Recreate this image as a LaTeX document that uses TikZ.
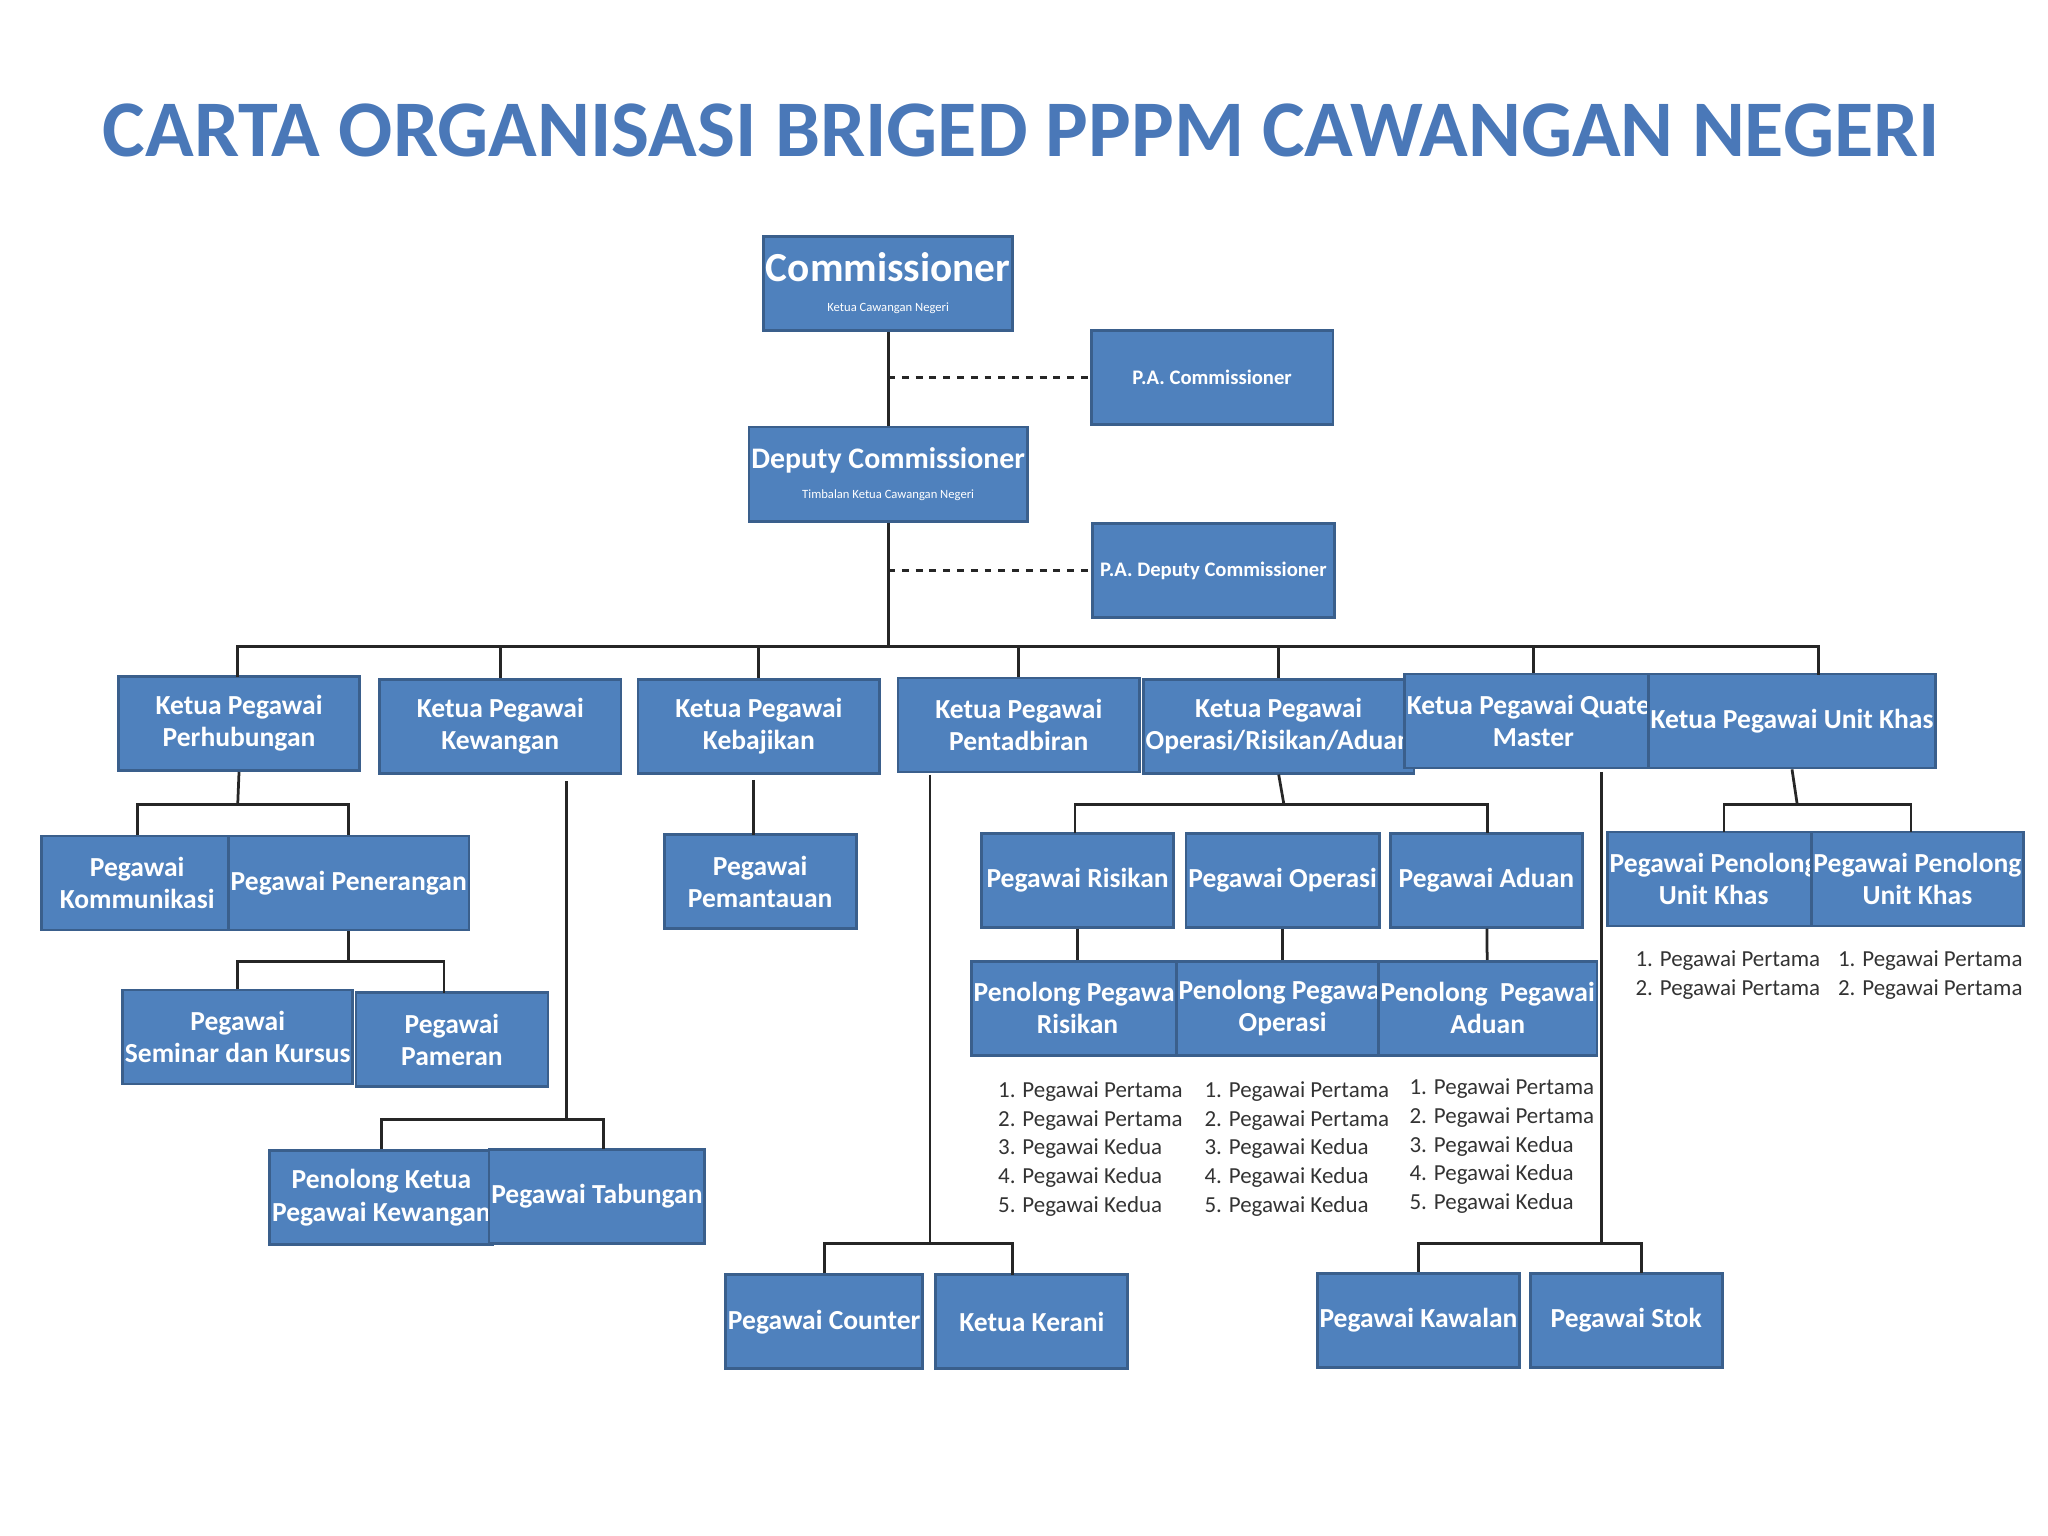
\documentclass[tikz,border=0pt]{standalone}
\usepackage{fontspec}
\setmainfont{Carlito}
\definecolor{boxfill}{HTML}{4F81BD}
\definecolor{boxline}{HTML}{3A5F8C}
\definecolor{titleblue}{HTML}{4A78B8}
\tikzset{
  box/.style={draw=boxline,line width=1.2pt,fill=boxfill,text=white,font=\bfseries\fontsize{12}{14}\selectfont,
    align=center,minimum width=2.94cm,minimum height=1.44cm,inner sep=1pt},
  wide/.style={box,minimum width=3.7cm},
  link/.style={line width=1.2pt,black!85},
  list/.style={font=\fontsize{10}{12.5}\selectfont,text=black!80,align=left,anchor=north west}
}
\begin{document}
\begin{tikzpicture}[x=0.02cm,y=-0.02cm]
  \useasboundingbox (0,0) rectangle (1568,1176);

  \node[text=titleblue,font=\bfseries\fontsize{35}{40}\selectfont] (title) at (782,100) {CARTA ORGANISASI BRIGED PPPM CAWANGAN NEGERI};

  % top
  \node[wide] (com) at (680,217) {{\fontsize{18}{20}\selectfont Commissioner}\\[-1pt]{\fontsize{5.5}{6}\selectfont\mdseries Ketua Cawangan Negeri}};
  \node[wide] (pacom) at (928,289) {{\fontsize{9}{10}\selectfont P.A. Commissioner}};
  \node[wide] (dep) at (680,363) {{\fontsize{13}{15}\selectfont Deputy Commissioner}\\[-1pt]{\fontsize{5.5}{6}\selectfont\mdseries Timbalan Ketua Cawangan Negeri}};
  \node[wide] (padep) at (929,437) {{\fontsize{9}{10}\selectfont P.A. Deputy Commissioner}};

  \coordinate (c1) at (680,289);
  \coordinate (c2) at (680,437);
  \draw[link] (com) -- (dep);
  \draw[link] (dep) -- (680,495);
  \draw[link,dashed] (c1) -- (pacom);
  \draw[link,dashed] (c2) -- (padep);

  % ketua row
  \node[wide] (perhub) at (183,554) {Ketua Pegawai\\Perhubungan};
  \node[wide] (kewangan) at (383,556) {Ketua Pegawai\\Kewangan};
  \node[wide] (kebajikan) at (581,556) {Ketua Pegawai\\Kebajikan};
  \node[wide] (pentadbiran) at (780,555) {Ketua Pegawai\\Pentadbiran};
  \node[wide] (operasi) at (979,556) {Ketua Pegawai\\Operasi/Risikan/Aduan};
  \node[wide] (quater) at (1174,552) {Ketua Pegawai Quater\\Master};
  \node[wide] (unitkhas) at (1372,552) {Ketua Pegawai Unit Khas};

  \draw[link] (182,518) |- (1392,495) -- (1392,517);
  \foreach \k in {kewangan,kebajikan,pentadbiran,operasi,quater}
    \draw[link] (\k.north) -- (\k.north |- 0,495);

  % perhubungan
  \node[box] (komunikasi) at (105,676) {Pegawai\\Kommunikasi};
  \node[box] (penerangan) at (267,676) {Pegawai Penerangan};
  \node[box] (seminar) at (182,794) {Pegawai\\Seminar dan Kursus};
  \node[box] (pameran) at (346,796) {Pegawai\\Pameran};
  \draw[link] (perhub.south) -- (182,616);
  \draw[link] (komunikasi.north) |- (267,616) -- (penerangan.north);
  \draw[link] (penerangan.south) -- (267,736);
  \draw[link] (seminar.north) |- (340,736) -- (340,760);

  % kewangan
  \node[box] (penolongkew) at (292,917) {Penolong Ketua\\Pegawai Kewangan};
  \node[box] (tabungan) at (457,916) {Pegawai Tabungan};
  \draw[link] (434,598) -- (434,857);
  \draw[link] (penolongkew.north) |- (462,857) -- (462,880);

  % kebajikan
  \node[box] (pemantauan) at (582,675) {Pegawai\\Pemantauan};
  \draw[link] (577,597) -- (577,639);

  % pentadbiran
  \node[box] (counter) at (631,1012) {Pegawai Counter};
  \node[box] (kerani) at (790,1012) {Ketua Kerani};
  \draw[link] (712,593) -- (712,952);
  \draw[link] (counter.north) |- (775,952) -- (775,976);

  % operasi
  \node[box] (risikan) at (825,674) {Pegawai Risikan};
  \node[box] (pgoperasi) at (982,674) {Pegawai Operasi};
  \node[box] (aduan) at (1138,674) {Pegawai Aduan};
  \node[box] (penrisikan) at (825,772) {Penolong Pegawai\\Risikan};
  \node[box] (penoperasi) at (982,772) {Penolong Pegawai\\Operasi};
  \node[box] (penaduan) at (1139,772) {Penolong\ \ Pegawai\\Aduan};
  \draw[link] (operasi.south) -- (983,616);
  \draw[link] (823,638) |- (1139,616) -- (1139,638);
  \draw[link] (risikan) -- (penrisikan);
  \draw[link] (pgoperasi) -- (penoperasi);
  \draw[link] (aduan) -- (penaduan);
  \node[list] (lstris) at (758,822) {1. Pegawai Pertama\\2. Pegawai Pertama\\3. Pegawai Kedua\\4. Pegawai Kedua\\5. Pegawai Kedua};
  \node[list] (lstop) at (916,822) {1. Pegawai Pertama\\2. Pegawai Pertama\\3. Pegawai Kedua\\4. Pegawai Kedua\\5. Pegawai Kedua};
  \node[list] (lstadu) at (1073,820) {1. Pegawai Pertama\\2. Pegawai Pertama\\3. Pegawai Kedua\\4. Pegawai Kedua\\5. Pegawai Kedua};

  % quater master
  \node[box] (kawalan) at (1086,1011) {Pegawai Kawalan};
  \node[box] (stok) at (1245,1011) {Pegawai Stok};
  \draw[link] (1226,591) -- (1226,952);
  \draw[link] (kawalan.north) |- (1257,952) -- (1257,975);

  % unit khas
  \node[box] (penkhas1) at (1312,673) {Pegawai Penolong\\Unit Khas};
  \node[box] (penkhas2) at (1468,673) {Pegawai Penolong\\Unit Khas};
  \draw[link] (unitkhas.south) -- (1376,616);
  \draw[link] (1320,637) |- (1463,616) -- (1463,637);
  \node[list] (lstkhas1) at (1246,722) {1. Pegawai Pertama\\2. Pegawai Pertama};
  \node[list] (lstkhas2) at (1401,722) {1. Pegawai Pertama\\2. Pegawai Pertama};
\end{tikzpicture}
\end{document}
